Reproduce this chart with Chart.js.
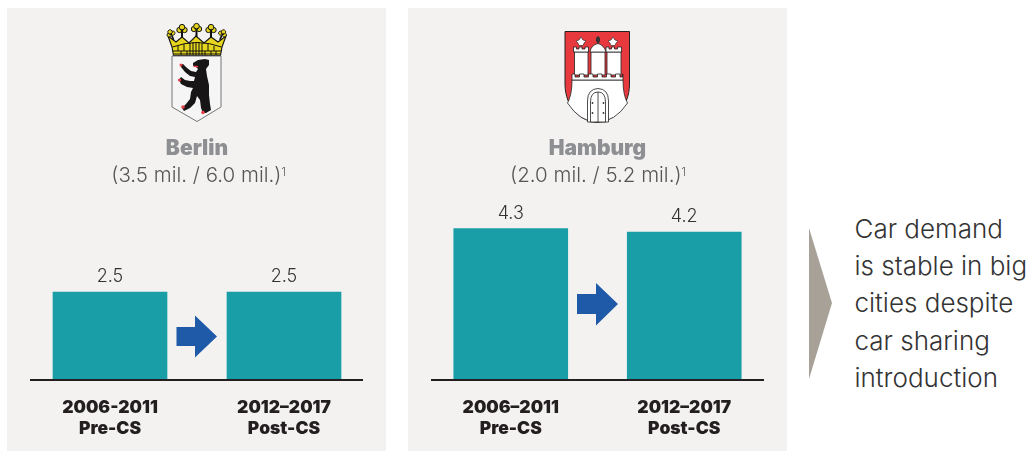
<!DOCTYPE html>
<html><head><meta charset="utf-8">
<script src="https://cdn.jsdelivr.net/npm/chart.js@4"></script>
<style>
html,body{margin:0;padding:0;background:#fff;width:1027px;height:451px;overflow:hidden}
.a{position:absolute}
.panel{background:#f3f2f1;top:8px;width:379px;height:443px}
.t{position:absolute;white-space:nowrap;text-align:center;transform:translateX(-50%)}
.city{font:900 21px Inter,sans-serif;color:#8e8f92;top:136px;line-height:24px}
.pop{font:300 20.5px Inter,sans-serif;color:#555;top:162px;line-height:26px}
sup{font-size:11px;line-height:0;vertical-align:6px}
#msg{left:854.500px;top:210px;font:300 26px/37.2px Inter,sans-serif;color:#333;white-space:nowrap}
canvas{position:absolute}
</style></head><body>
<div class="a panel" style="left:7px"></div>
<div class="a panel" style="left:408px"></div>
<svg class="a" style="left:0;top:0" width="1027" height="451">
 <defs>
  <g id="clover" fill="#e6d61e" stroke="#111" stroke-width="1">
   <circle cx="-2.600" cy="0" r="2.600"/><circle cx="2.600" cy="0" r="2.600"/><circle cx="0" cy="-2.800" r="2.800"/>
   <path d="M-1.500 -1L0 1L1.500 -1" fill="none" stroke-width="1.200"/>
   <path d="M0 2V8" stroke-width="2"/>
  </g>
 </defs>
 <!-- Berlin crown -->
 <path d="M173.500 55.500L172 47L168 36L176 42L182 37L189 43L196 36L204 43L211 37L218 42L226 36L222 47L220.500 55.500Z" fill="#e6d61e" stroke="#111" stroke-width="1.100"/>
 <g stroke="#111" stroke-width="1" fill="none">
  <path d="M172.500 47Q197 38 221.500 47"/>
  <path d="M173 51H221M174 54H220"/>
  <path d="M178 46V51M184 44V51M190 43V55M193 42V55M196 42V55M199 42V55M202 43V55M208 44V51M214 46V51M181 51V55M187 51V55M205 51V55M211 51V55M216 51V55"/>
 </g>
 <use href="#clover" x="182" y="30"/><use href="#clover" x="196.500" y="29"/><use href="#clover" x="211" y="30"/>
 <g transform="translate(171 34) rotate(-25) scale(.8)"><use href="#clover"/></g>
 <g transform="translate(222.500 34) rotate(25) scale(.8)"><use href="#clover"/></g>
 <!-- Berlin shield -->
 <path d="M172 56H221V107L197 121.500L172 107Z" fill="#f5f5f5" stroke="#777" stroke-width="1"/>
 <path d="M193 63L198 60L205 59L209 60L209 65L206 69L207 76L209 85L209 95L210 104L211 110L206 113L203 113L201 108L200 100L197 96L195 103L190 108L184 111L182 108L186 104L190 99L191 92L193 88L187 87L181 84L179 80L181 77L185 80L190 81L194 81L195 77L190 76L185 72L181 67L180 64L183 64L187 68L191 71L196 72L198 69L196 67L193 66Z" fill="#171515"/>
 <g fill="#e8404a"><circle cx="181" cy="65" r="1.500"/><circle cx="179.500" cy="80" r="1.600"/><circle cx="183" cy="107" r="1.800"/><circle cx="203" cy="112.500" r="1.800"/><path d="M193 65.500L198 66L198 67.500L194 67Z"/></g>
 <!-- Hamburg shield -->
 <path d="M565 31.500H629.500V84C629.500 108 612 122 597 122C582 122 565 108 565 84Z" fill="#e83a3e" stroke="#222" stroke-width="1"/>
 <path d="M572 80Q572 95 567.500 103Q580 122 597 122Q615 122 627.500 103Q623 95 623 80Z" fill="#fff" stroke="#222" stroke-width=".8"/>
 <g fill="#fff" stroke="#222" stroke-width=".8">
  <rect x="574.500" y="52" width="13.500" height="23"/><rect x="591" y="52" width="14" height="23"/><rect x="607" y="52" width="14" height="23"/>
  <path d="M573.500 52V47H576.500V49H579V47H582V49H585V47H588.500V52Z"/><path d="M606 52V47H609V49H611.500V47H614.500V49H617.500V47H621.500V52Z"/>
  <path d="M590 52Q591 45 598 43.500Q604 45 606 52Z"/>
  <path d="M572 80V74H575V77H579.500V74H584V77H588.500V74H593V77H597.500V74H602V77H606.500V74H611V77H615.500V74H620V77H622.500V74H623V80Z"/>
  <path d="M587.500 122V101Q587.500 89 598 88.500Q608.500 89 608.500 101V122Z"/>
  <path d="M590.500 122V102Q590.500 92 598 92Q605.500 92 605.500 102V122Z"/>
  <path d="M598 92V122" fill="none"/>
 </g>
 <g fill="#333"><circle cx="592.500" cy="103" r=".9"/><circle cx="592.500" cy="113" r=".9"/><circle cx="603.500" cy="103" r=".9"/><circle cx="603.500" cy="113" r=".9"/></g>
 <g fill="#fff" stroke="#222" stroke-width=".6">
  <path d="M581 37L583 40L586 41L584 43L583 45.500H579L578 43L576 41L579 40Z"/>
  <path d="M613 37L615 40L618 41L616 43L615 45.500H611L610 43L608 41L611 40Z"/>
 </g>
 <path d="M598 36L600 38L600 41L598 44L596 41L596 38Z" fill="#333"/>
 <!-- blue arrows -->
 <g fill="#1f5aa8">
  <path d="M176.500 327H195V315.500L217 336.500L195 357.500V346H176.500Z"/>
  <path d="M577 294H596V283L618 304L596 325.500V314H577Z"/>
 </g>
 <!-- takeaway chevron -->
 <path d="M809 228L832 303L809 379Z" fill="#a8a198"/>
</svg>
<canvas id="c1" class="a" width="379" height="443" style="left:7px;top:8px"></canvas>
<canvas id="c2" class="a" width="379" height="443" style="left:408px;top:8px"></canvas>
<div class="t city" style="left:197px">Berlin</div>
<div class="t pop" style="left:198.500px">(3.5 mil. / 6.0 mil.)<sup>1</sup></div>
<div class="t city" style="left:597.500px">Hamburg</div>
<div class="t pop" style="left:598px">(2.0 mil. / 5.2 mil.)<sup>1</sup></div>
<div id="msg" class="a">Car demand<br>is stable in big<br>cities despite<br>car sharing<br>introduction</div>
<script>
const berlinCategories = [['2006-2011','Pre-CS'],['2012–2017','Post-CS']];
const hamburgCategories = [['2006–2011','Pre-CS'],['2012–2017','Post-CS']];
const berlinValues = [2.5, 2.5];
const hamburgValues = [4.3, 4.2];
const yMax = 5;

const barLabels = {
  id:'barLabels',
  afterDatasetsDraw(chart){
    const {ctx} = chart;
    const meta = chart.getDatasetMeta(0);
    ctx.save();
    ctx.font = '300 18px Inter, sans-serif';
    ctx.fillStyle = '#333';
    ctx.textAlign = 'center';
    ctx.textBaseline = 'alphabetic';
    meta.data.forEach((b,i)=>{
      ctx.fillText(chart.data.datasets[0].data[i].toFixed(1), b.x, b.y - 10);
    });
    ctx.restore();
  }
};
const baseline = {
  id:'baseline',
  afterDatasetsDraw(chart){
    const {ctx,chartArea:a,scales:{y}} = chart;
    const py = y.getPixelForValue(0);
    ctx.save();
    ctx.strokeStyle = '#231f20';
    ctx.lineWidth = 2;
    ctx.beginPath();
    ctx.moveTo(a.left + 7, py);
    ctx.lineTo(a.left + 340, py);
    ctx.stroke();
    ctx.restore();
  }
};
function build(id, labels, values, rightPad){
  new Chart(document.getElementById(id),{
    type:'bar',
    data:{labels,datasets:[{data:values,backgroundColor:'#199ea8',borderWidth:0,barThickness:114}]},
    plugins:[barLabels,baseline],
    options:{
      responsive:false,animation:false,
      layout:{padding:{left:16,right:rightPad,top:196,bottom:0}},
      plugins:{legend:{display:false},tooltip:{enabled:false}},
      scales:{
        y:{display:false,min:0,max:yMax},
        x:{
          grid:{display:false},border:{display:false},
          afterFit(s){s.height=71;},
          ticks:{maxRotation:0,autoSkip:false,padding:9,color:'#231f20',font:{family:'Inter, sans-serif',weight:'900',size:17.5,lineHeight:1.2}}
        }
      }
    }
  });
}
build('c1',berlinCategories,berlinValues,15);
build('c2',hamburgCategories,hamburgValues,16);
</script>
</body></html>
